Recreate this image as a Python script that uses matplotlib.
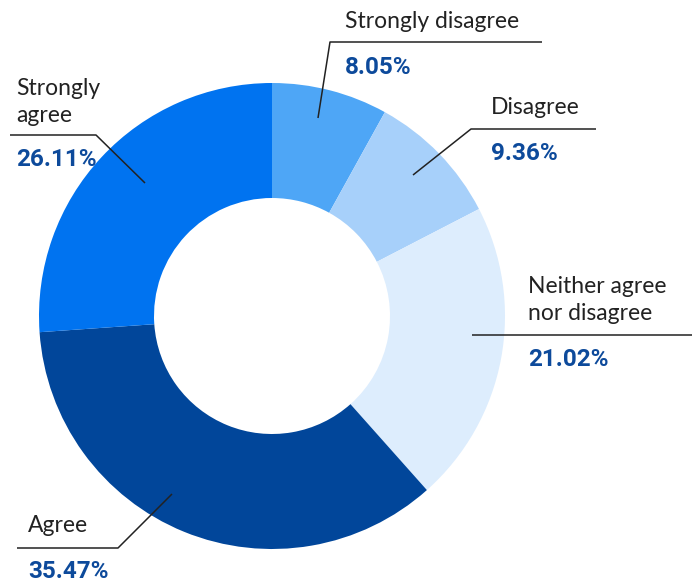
import matplotlib.pyplot as plt

# data
labels = ['Strongly disagree', 'Disagree', 'Neither agree\nnor disagree', 'Agree', 'Strongly\nagree']
values = [8.05, 9.36, 21.02, 35.47, 26.11]
colors = ['#4ea6f6', '#a7d0fa', '#ddedfd', '#01469a', '#0073f0']

W, H = 698, 582
fig = plt.figure(figsize=(W / 100, H / 100), dpi=100)
ax = fig.add_axes([0, 0, 1, 1])

cx, cy, r = 272, H - 316, 233
ax.pie(values, colors=colors, startangle=90, counterclock=False,
       center=(cx, cy), radius=r, frame=True,
       wedgeprops=dict(width=r - 118, linewidth=0))
ax.set_xlim(0, W)
ax.set_ylim(0, H)
ax.set_aspect('equal')
ax.axis('off')

# leader lines in pixel coords (top-left origin): polyline points, label x, label y, pct y
leaders = [
    ([(318, 118), (330, 42), (542, 42)], 345, 22, 68),
    ([(413, 175), (471, 129), (596, 129)], 491, 108, 154),
    ([(472, 335), (692, 335)], 528, 300, 359),
    ([(172, 494), (118, 548), (17, 548)], 28, 526, 571),
    ([(145, 183), (96, 135), (10, 135)], 16, 102, 160),
]

for (pts, lx, ly, py), lab, v in zip(leaders, labels, values):
    xs = [p[0] for p in pts]
    ys = [H - p[1] for p in pts]
    ax.plot(xs, ys, color='#222222', lw=1.1, solid_capstyle='butt')
    ax.text(lx, H - ly, lab, fontsize=16.5, family='Lato', color='#222222',
            ha='left', va='center', linespacing=1.3)
    ax.text(lx, H - py, f'{v:.2f}%', fontsize=17.5, family='Roboto', weight='bold',
            color='#0d4a9b', ha='left', va='center')

fig.savefig('out.png', dpi=100)
